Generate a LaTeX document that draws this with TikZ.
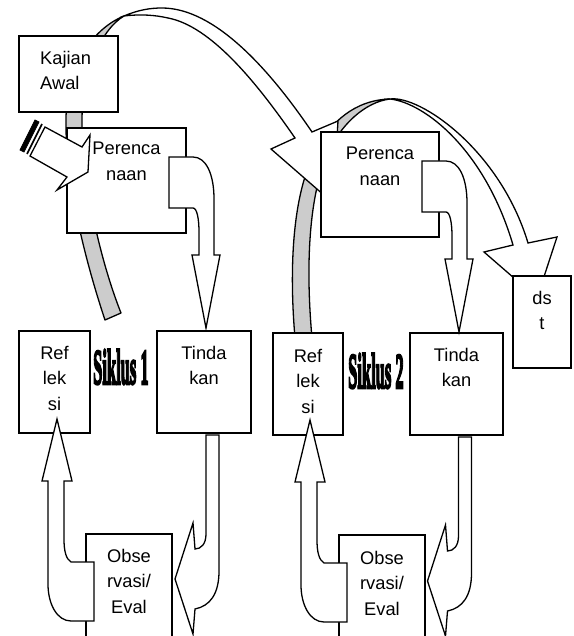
\documentclass[tikz,border=0pt]{standalone}
\usepackage{fontspec}
\setmainfont{Liberation Sans}
\newfontfamily\sikfont[FakeBold=5]{Liberation Serif}
\usetikzlibrary{positioning}

\begin{document}
\begin{tikzpicture}[x=1pt, y=-1pt,
            box/.style={draw, line width=2pt, fill=white, inner sep=0pt},
            lbl/.style={align=center, inner sep=0pt, font=\fontsize{18.3}{25.5}\selectfont},
            band/.style={draw, line width=1.3pt, fill=black!20, line join=round},
            blockarrow/.style={draw, line width=1.3pt, fill=white, line join=miter},
            siklus/.style={inner sep=0pt, anchor=base west, font=\fontsize{50}{50}\sikfont\bfseries},
        ]
            \useasboundingbox (0,0) rectangle (573,636);
            \clip (0,0) rectangle (573,636);

            % Back (grey) side of the big curved arrows
            \filldraw[band] (105,320) .. controls (85,260) and (65,180) .. (66,120) .. controls (66,70) and (90,30) .. (124,16)
                .. controls (100,30) and (82,75) .. (82,120) .. controls (82,180) and (100,260) .. (121,313) -- cycle;
            \filldraw[band] (295,338) .. controls (290,280) and (290,200) .. (315,152) .. controls (330,122) and (355,100) .. (390,99)
                .. controls (365,102) and (340,125) .. (327,155) .. controls (310,195) and (305,260) .. (312,338) -- cycle;

            % Front (white) side of the big curved arrows
            \filldraw[blockarrow] (124,16) .. controls (138,10) and (150,8) .. (162,8) .. controls (215,8) and (270,70) .. (312,132)
                -- (338,121) -- (333,203) -- (271,149) -- (295,138)
                .. controls (255,80) and (210,26) .. (168,18) .. controls (155,15) and (140,14) .. (124,16) -- cycle;
            \filldraw[blockarrow] (390,99) .. controls (420,95) and (500,150) .. (528,243)
                -- (557,237) -- (537,298) -- (484,252) -- (513,245)
                .. controls (485,150) and (425,103) .. (390,99) -- cycle;

            % Nodes
            \node[box, minimum width=99pt, minimum height=76pt] (kajian) at (68.5,74) {};
            \node[box, minimum width=119pt, minimum height=105pt] (plan1) at (126.5,180.5) {};
            \node[box, minimum width=118pt, minimum height=105pt] (plan2) at (380,184.5) {};
            \node[box, minimum width=58pt, minimum height=92pt] (dst) at (542,322) {};
            \node[box, minimum width=71pt, minimum height=102pt] (ref1) at (54.5,382) {};
            \node[box, minimum width=94pt, minimum height=102pt] (tind1) at (204,382) {};
            \node[box, minimum width=86pt, minimum height=126pt] (obs1) at (129,597) {};
            \node[box, minimum width=70pt, minimum height=102pt] (ref2) at (308,384) {};
            \node[box, minimum width=93pt, minimum height=102pt] (tind2) at (456.5,384) {};
            \node[box, minimum width=86pt, minimum height=125pt] (obs2) at (382,597.5) {};

            % Texts
            \node[lbl, align=left, below right=16pt and 22pt of kajian.north west] {Kajian\\Awal};
            \node[lbl, below=15pt of plan1.north] {Perenca\\naan};
            \node[lbl, below=16pt of plan2.north] {Perenca\\naan};
            \node[lbl, below=16pt of dst.north] {ds\\t};
            \node[lbl, below=16pt of ref1.north] {Ref\\lek\\si};
            \node[lbl, below=16pt of tind1.north] {Tinda\\kan};
            \node[lbl, below=16pt of obs1.north] {Obse\\rvasi/\\Eval};
            \node[lbl, below=17pt of ref2.north] {Ref\\lek\\si};
            \node[lbl, below=16pt of tind2.north] {Tinda\\kan};
            \node[lbl, below=17pt of obs2.north] {Obse\\rvasi/\\Eval};
            \node[siklus] (sik1) at (93,384) {\scalebox{0.33}[1]{Siklus 1}};
            \node[siklus] (sik2) at (348,388) {\scalebox{0.33}[1]{Siklus 2}};

            % Arrows
            \foreach \n in {1,2} {
                \begin{scope}[shift={(plan\n.north east)}]
                    \filldraw[blockarrow] (-18,30) -- (6,30) .. controls (19,30) and (27,47) .. (27,72) -- (27,128) -- (33,128)
                        -- (19,201) -- (5,128) -- (12,128) -- (12,105) .. controls (12,92) and (10,81) .. (6,81) -- (-18,81) -- cycle;
                \end{scope}
                \begin{scope}[shift={(tind\n.south)}]
                    \filldraw[blockarrow] (2,1) -- (2,100) .. controls (2,110) and (-3,115) .. (-9,115) -- (-11,89) -- (-29,145)
                        -- (-11,200) -- (-9,175) .. controls (6,172) and (15,160) .. (15,137) -- (15,1) -- cycle;
                \end{scope}
                \begin{scope}[shift={(obs\n.north west)}]
                    \filldraw[blockarrow] (9,29) -- (-14,29) .. controls (-19,26) and (-21,18) .. (-21,6) -- (-21,-52) -- (-13,-52)
                        -- (-28,-114) -- (-43,-52) -- (-37,-52) -- (-37,51) .. controls (-37,71) and (-28,88) .. (-14,88) -- (9,88) -- cycle;
                \end{scope}
            }

            % Striped arrow into the first planning box
            \filldraw[blockarrow] (45,127) -- (82,147) -- (90,135) -- (88,172) -- (57,190) -- (67,177) -- (30,156) -- cycle;
            \filldraw[line width=0.8pt] (35,120) -- (39,122) -- (24,152) -- (20,150) -- cycle;
            \draw[line width=1.6pt] (42,124) -- (27,154);
        \end{tikzpicture}
\end{document}
